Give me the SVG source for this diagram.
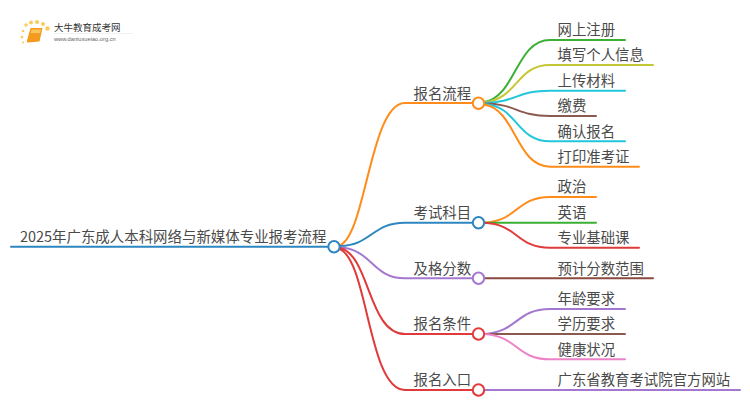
<svg xmlns="http://www.w3.org/2000/svg" width="750" height="410" viewBox="0 0 750 410">
<style>
text{font-family:"Noto Sans CJK SC","Noto Sans",sans-serif;font-size:14.4px;fill:#4a4a4a}
.c{fill:none;stroke-width:2;stroke-linecap:round}
.n{fill:#fff;stroke-width:2}
</style>
<rect width="750" height="410" fill="#fff"/>
<g id="logo">
<g fill="#f9c23c" opacity=".85"><circle cx="23" cy="31" r="1.3"/><circle cx="22" cy="37" r="1.3"/><circle cx="26" cy="25" r="1.7"/><circle cx="31" cy="22.500" r="2"/><circle cx="37" cy="22" r="2"/><circle cx="43" cy="24" r="2"/><circle cx="47.500" cy="28.500" r="2.200"/><circle cx="23" cy="42.500" r="1"/></g>
<path d="M30.500 28H42.500L39.500 41.500L28 42.500Q26.500 42.500 27 40.500Z" fill="#f39a1f"/>
<path d="M31.500 29.500H41L40 33H30.800Z" fill="#fbc65a"/>
<text x="54" y="31" style="font-size:9.500px;fill:#333">大牛教育成考网</text>
<path d="M54 33.500H133" stroke="#e8e8e8" stroke-width=".6"/>
<text x="54" y="41" style="font-size:5.700px;font-family:'Liberation Sans',sans-serif;fill:#666">www.daniuxueiao.org.cn</text>
</g>
<g id="connectors">
<path class="c" stroke="#2e86c1" d="M11 246.700H328"/>
<path class="c" stroke="#ff8c1a" d="M339.500 245.500C366 236 370 103 405 103H473"/>
<path class="c" stroke="#2e86c1" d="M340 246C372 245 372 222.700 405 222.700H473"/>
<path class="c" stroke="#a578d0" d="M340 247.500C372 249 372 278.300 405 278.300H473"/>
<path class="c" stroke="#e03a3a" d="M339.500 248C370 254 368 334 405 334H473"/>
<path class="c" stroke="#e03a3a" d="M339 249C368 258 368 390 405 390H473"/>
<path class="c" stroke="#3cb034" d="M484 102C516 97 516 40 550 40H625"/>
<path class="c" stroke="#c4c734" d="M484 102.500C518 99 516 65 550 65H653"/>
<path class="c" stroke="#22c7dc" d="M484 103C518 102 516 90.700 550 90.700H625"/>
<path class="c" stroke="#8a5a50" d="M484 103.500C518 104 516 116 550 116H596"/>
<path class="c" stroke="#22c7dc" d="M484 104C518 106 516 141.300 550 141.300H625"/>
<path class="c" stroke="#ff8c1a" d="M484 104.500C516 109 516 166.700 550 166.700H639"/>
<path class="c" stroke="#ff8c1a" d="M484 222.700C518 221 516 197 550 197H596"/>
<path class="c" stroke="#3cb034" d="M484 222.700H596"/>
<path class="c" stroke="#e03a3a" d="M484 222.700C518 224 516 247.700 550 247.700H639"/>
<path class="c" stroke="#8a4a40" d="M484 278.300H653"/>
<path class="c" stroke="#a578d0" d="M484 334C518 332 516 309 550 309H625"/>
<path class="c" stroke="#8a5a50" d="M484 334H625"/>
<path class="c" stroke="#ee82c8" d="M484 334C518 336 516 359.300 550 359.300H625"/>
<path class="c" stroke="#a578d0" d="M484 390H740"/>
</g>
<g id="root"><circle class="n" stroke="#2e86c1" cx="334" cy="246.700" r="5.700"/><text x="20" y="242" style="font-size:14.450px">2025年广东成人本科网络与新媒体专业报考流程</text></g>
<g id="b1"><circle class="n" stroke="#ff8c1a" cx="478.500" cy="103.300" r="5.700"/><text x="413.500" y="98.500">报名流程</text></g>
<g id="b2"><circle class="n" stroke="#2e86c1" cx="478.500" cy="222.700" r="5.700"/><text x="413.500" y="218">考试科目</text></g>
<g id="b3"><circle class="n" stroke="#a578d0" cx="478.500" cy="278.300" r="5.700"/><text x="413.500" y="273.500">及格分数</text></g>
<g id="b4"><circle class="n" stroke="#e03a3a" cx="478.500" cy="334" r="5.700"/><text x="413.500" y="329.300">报名条件</text></g>
<g id="b5"><circle class="n" stroke="#e03a3a" cx="478.500" cy="390" r="5.700"/><text x="413.500" y="385.300">报名入口</text></g>
<g id="l1"><text x="557.500" y="35.300">网上注册</text></g>
<g id="l2"><text x="557.500" y="60.300">填写个人信息</text></g>
<g id="l3"><text x="557.500" y="86">上传材料</text></g>
<g id="l4"><text x="557.500" y="111.300">缴费</text></g>
<g id="l5"><text x="557.500" y="136.500">确认报名</text></g>
<g id="l6"><text x="557.500" y="162">打印准考证</text></g>
<g id="l7"><text x="557.500" y="192.300">政治</text></g>
<g id="l8"><text x="557.500" y="218">英语</text></g>
<g id="l9"><text x="557.500" y="243">专业基础课</text></g>
<g id="l10"><text x="557.500" y="273.500">预计分数范围</text></g>
<g id="l11"><text x="557.500" y="304.300">年龄要求</text></g>
<g id="l12"><text x="557.500" y="329.300">学历要求</text></g>
<g id="l13"><text x="557.500" y="354.500">健康状况</text></g>
<g id="l14"><text x="557.500" y="385.300">广东省教育考试院官方网站</text></g>
</svg>
